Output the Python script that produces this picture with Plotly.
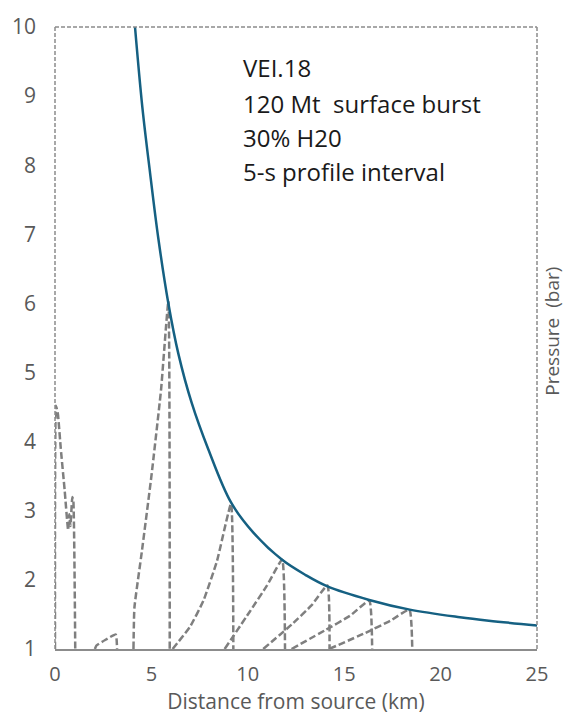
import plotly.graph_objects as go

# Envelope (peak overpressure) curve
env_x = [4.15, 4.53, 4.93, 5.36, 5.88, 6.4, 7.09, 7.95, 9.13, 10.3, 11.78, 13.0, 14.1, 16.3, 18.4, 21.0, 22.5, 25.0]
env_y = [10.0, 8.84, 7.89, 6.94, 6.0, 5.27, 4.56, 3.89, 3.12, 2.68, 2.29, 2.07, 1.91, 1.71, 1.57, 1.46, 1.41, 1.34]

# Pressure profiles at 5-s intervals
p1_x = [0.0, 0.05, 0.15, 0.3, 0.5, 0.68, 0.74, 0.8, 0.9, 0.95, 1.05]
p1_y = [1.0, 4.52, 4.4, 3.9, 3.3, 2.72, 2.95, 2.78, 3.2, 3.15, 1.0]
p2_x = [2.07, 2.15, 2.6, 3.15, 3.22]
p2_y = [1.0, 1.05, 1.13, 1.21, 1.0]
p3_x = [4.07, 4.12, 4.5, 5.0, 5.5, 5.88, 5.95]
p3_y = [1.0, 1.6, 2.4, 3.5, 4.75, 6.03, 1.0]
p4_x = [6.1, 7.0, 7.7, 8.4, 9.13, 9.25]
p4_y = [1.0, 1.32, 1.7, 2.27, 3.1, 1.0]
p5_x = [8.8, 10.1, 11.0, 11.78, 11.93]
p5_y = [1.0, 1.54, 1.92, 2.29, 1.0]
p6_x = [10.8, 12.3, 13.3, 14.13, 14.24]
p6_y = [1.0, 1.36, 1.63, 1.92, 1.0]
p7_x = [12.27, 14.0, 15.3, 16.3, 16.45]
p7_y = [1.0, 1.27, 1.48, 1.70, 1.0]
p8_x = [14.22, 16.0, 17.4, 18.38, 18.53]
p8_y = [1.0, 1.22, 1.41, 1.57, 1.0]
profiles = [(p1_x, p1_y), (p2_x, p2_y), (p3_x, p3_y), (p4_x, p4_y),
            (p5_x, p5_y), (p6_x, p6_y), (p7_x, p7_y), (p8_x, p8_y)]

x_ticks = [0, 5, 10, 15, 20, 25]
y_ticks = [1, 2, 3, 4, 5, 6, 7, 8, 9, 10]
note_lines = ["VEI.18", "120 Mt  surface burst", "30% H20", "5-s profile interval"]

GRAY = "#7f7f7f"
BLUE = "#156082"
TXT = "#595959"

fig = go.Figure()
for px, py in profiles:
    fig.add_trace(go.Scatter(x=px, y=py, mode="lines", hoverinfo="skip",
                             line=dict(color=GRAY, width=2.5, dash="7px,3px", shape="spline", smoothing=0.4),
                             showlegend=False))
fig.add_trace(go.Scatter(x=env_x, y=env_y, mode="lines",
                         line=dict(color=BLUE, width=2.5, shape="spline", smoothing=1.0),
                         showlegend=False))

fig.update_layout(
    width=568, height=721,
    margin=dict(l=55, r=31, t=19, b=72),
    paper_bgcolor="white", plot_bgcolor="white",
    font=dict(family="Open Sans", color=TXT),
    xaxis=dict(range=[0, 25], tickvals=x_ticks, showgrid=False, zeroline=False,
               showline=True, linecolor="#8c8c8c", linewidth=1.8, ticks="",
               tickfont=dict(size=20, color=TXT), ticklabelstandoff=6,
               title=dict(text="Distance from source (km)", font=dict(size=21, color=TXT), standoff=4)),
    yaxis=dict(range=[1, 10], tickvals=y_ticks, showgrid=False, zeroline=False,
               showline=False, ticks="", tickfont=dict(size=21, color=TXT), ticklabelstandoff=18),
    shapes=[
        dict(type="line", xref="paper", yref="paper", x0=0, y0=0, x1=0, y1=1,
             line=dict(color="#8c8c8c", width=1.5, dash="4px,2px")),
        dict(type="line", xref="paper", yref="paper", x0=0, y0=1, x1=1, y1=1,
             line=dict(color="#8c8c8c", width=1.5, dash="4px,2px")),
        dict(type="line", xref="paper", yref="paper", x0=1, y0=1, x1=1, y1=0,
             line=dict(color="#8c8c8c", width=1.5, dash="4px,2px")),
    ],
)

fig.add_annotation(text="Pressure  (bar)", xref="paper", yref="paper", x=1.0, y=0.51,
                   xanchor="left", yanchor="middle", xshift=0, textangle=-90, showarrow=False,
                   font=dict(size=19, color=TXT))

line_centers_px = [60, 96, 131, 165]
for txt, yc in zip(note_lines, line_centers_px):
    fig.add_annotation(text=txt, xref="paper", yref="paper",
                       x=(241 - 55) / 482, y=1 - (yc - 19) / 630, xanchor="left", yanchor="middle",
                       align="left", showarrow=False,
                       font=dict(size=24, color="#1a1a1a", family="Open Sans"))

fig.write_html("out.html", config={"displayModeBar": False},
               post_script="document.body.style.margin='0';document.body.style.padding='0';")
